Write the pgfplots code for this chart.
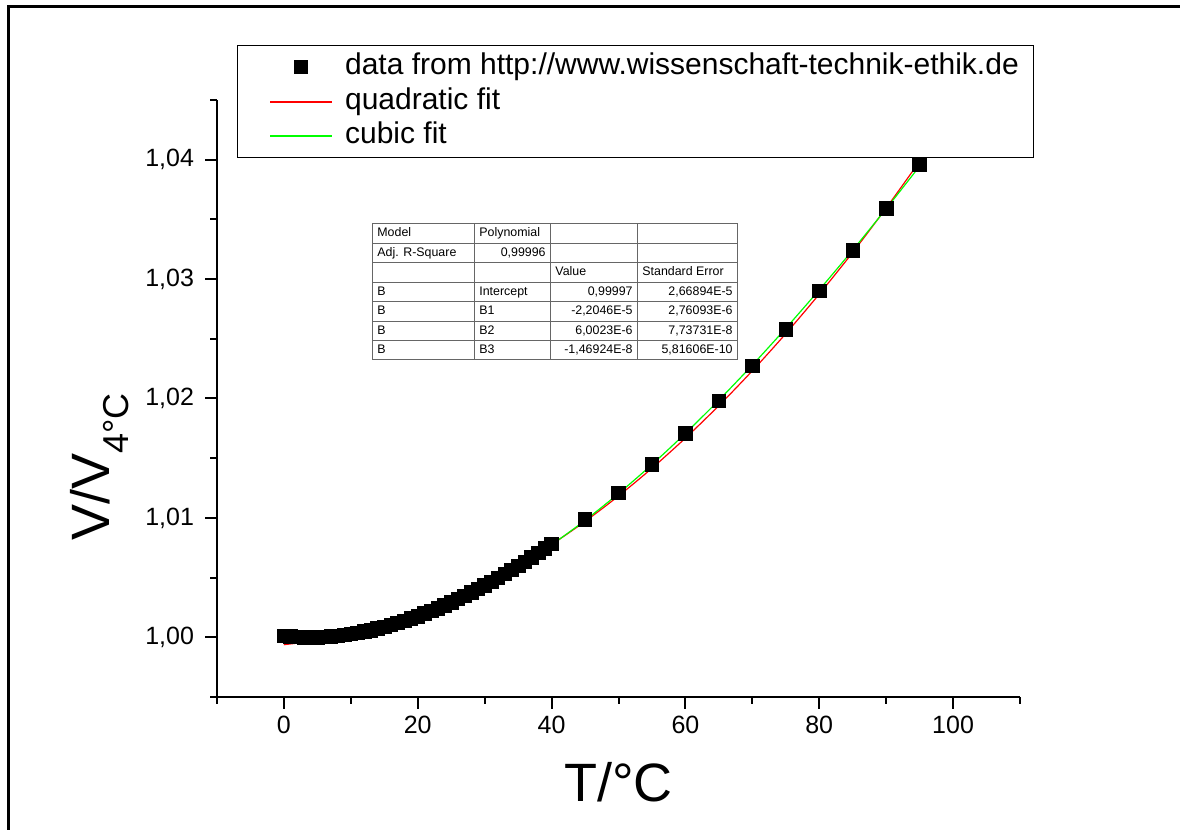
\documentclass[border=0pt]{standalone}
\usepackage{fontspec}
\setmainfont{Liberation Sans}
\usepackage{pgfplots}
\pgfplotsset{compat=1.18}
\definecolor{fitred}{RGB}{255,0,0}
\definecolor{fitgreen}{RGB}{0,255,0}
\pgfplotsset{
  marklegend/.style={legend image code/.code={\path (-8.5pt,0pt) (31pt,0pt); \draw[##1] plot coordinates {(15.5pt,0pt)};}},
  redlegend/.style={legend image code/.code={\path (-8.5pt,0pt); \draw[draw=fitred, line width=1pt] (0pt,0pt) -- (31pt,0pt);}},
  greenlegend/.style={legend image code/.code={\path (-8.5pt,0pt); \draw[draw=fitgreen, line width=1pt] (0pt,0pt) -- (31pt,0pt);}},
}
\pgfplotstableread{
T V
0 1.00013
1 1.00007
2 1.00003
3 1.00001
4 1.00000
5 1.00001
6 1.00003
7 1.00007
8 1.00012
9 1.00019
10 1.00027
11 1.00037
12 1.00048
13 1.00060
14 1.00073
15 1.00087
16 1.00103
17 1.00120
18 1.00138
19 1.00157
20 1.00177
21 1.00198
22 1.00221
23 1.00244
24 1.00268
25 1.00294
26 1.00320
27 1.00347
28 1.00375
29 1.00404
30 1.00434
31 1.00465
32 1.00497
33 1.00530
34 1.00563
35 1.00598
36 1.00633
37 1.00669
38 1.00706
39 1.00743
40 1.00782
45 1.00986
50 1.01208
55 1.01449
60 1.01706
65 1.01981
70 1.02272
75 1.02578
80 1.02900
85 1.03238
90 1.03592
95 1.03960
}\datatable
\pgfplotstableread{
T V
0 0.99938
5 0.999741
10 1.000299
15 1.001053
20 1.002005
25 1.003152
30 1.004495
35 1.006035
40 1.007773
45 1.009706
50 1.011836
55 1.014162
60 1.016685
65 1.019405
70 1.022321
75 1.025433
80 1.028743
85 1.032239
90 1.035951
95 1.039860
}\quadtable
\pgfplotstableread{
T V
0 0.99997
5 1.0000080
10 1.0003351
15 1.0009402
20 1.0018125
25 1.0029407
30 1.0043140
35 1.0059213
40 1.0077515
45 1.0097937
50 1.0120369
55 1.0144700
60 1.0170820
65 1.0198618
70 1.0227986
75 1.0258811
80 1.0290985
85 1.0324300
90 1.0358937
95 1.0394597
}\cubictable
\begin{document}
\begin{tikzpicture}[x=0.5pt,y=0.5pt]
\path[use as bounding box, fill=white] (0,0) rectangle (1180,830);
\draw[line width=1.5pt] (8,-5) -- (8,823) -- (1185,823);
\begin{axis}[
  at={(108.5pt,66.5pt)}, anchor=south west,
  scale only axis, width=401.5pt, height=298.5pt,
  xmin=-10, xmax=110, ymin=0.995, ymax=1.045,
  axis x line*=bottom, axis y line*=left,
  axis line style={-, line width=1pt},
  every tick/.style={black, line width=1pt},
  tick align=outside,
  major tick length=6pt, minor tick length=3.5pt,
  xtick={0,20,40,60,80,100},
  minor xtick={-10,10,30,50,70,90,110},
  ytick={1.00,1.01,1.02,1.03,1.04},
  minor ytick={0.995,1.005,1.015,1.025,1.035,1.045},
  /pgf/number format/assume math mode=true,
  ticklabel style={font=\fontsize{12.5}{15}\selectfont},
  yticklabel style={/pgf/number format/fixed, /pgf/number format/fixed zerofill, /pgf/number format/precision=2, /pgf/number format/use comma, xshift=-2pt},
  xticklabel style={/pgf/number format/fixed, /pgf/number format/precision=0},
  xlabel={T/°C},
  xlabel style={font=\fontsize{27}{32}\selectfont, at={(axis description cs:0.5,-0.1424)}, anchor=center},
  ylabel={V/V\raisebox{-0.35em}{\fontsize{18}{22}\selectfont 4°C}},
  ylabel style={font=\fontsize{27}{32}\selectfont, at={(axis description cs:-0.1457,0.385)}, anchor=center},
  legend style={at={(axis description cs:0.0249,1.092)}, anchor=north west,
    draw=black, line width=0.5pt, fill=white,
    font=\fontsize{15}{18}\selectfont,
    inner xsep=7.5pt, inner ysep=3.5pt,
    nodes={inner sep=0pt, text height=11pt, text depth=3.5pt},
    column sep=6pt, row sep=2.75pt},
  legend cell align=left,
]
\addplot[only marks, mark=square*, mark size=3.4pt, black, marklegend]
  table[x=T, y=V] {\datatable};
\addlegendentry{data from http://www.wissenschaft-technik-ethik.de}
\addplot[color=fitred, line width=0.6pt, smooth, redlegend]
  table[x=T, y=V] {\quadtable};
\addlegendentry{quadratic fit}
\addplot[color=fitgreen, line width=0.6pt, smooth, greenlegend]
  table[x=T, y=V] {\cubictable};
\addlegendentry{cubic fit}
\end{axis}
% parameter table
\begin{scope}[shift={(0,830)}, yscale=-1, font=\fontsize{6.2}{7.5}\selectfont,
  every node/.style={inner sep=0pt, text height=4.6pt, text depth=1.3pt}]
  \fill[white] (372,224) rectangle (737,360);
  \draw[black!60, line width=0.5pt] (372,224) rectangle (737,360);
  \foreach \yy in {243.4,262.9,282.3,301.7,321.1,340.6} {\draw[black!60, line width=0.5pt] (372,\yy) -- (737,\yy);}
  \foreach \xx in {474,550,637} {\draw[black!60, line width=0.5pt] (\xx,224) -- (\xx,360);}
  \node[anchor=west] at (377,233.7) {Model};
  \node[anchor=west] at (479,233.7) {Polynomial};
  \node[anchor=west] at (377,253.1) {Adj. R-Square};
  \node[anchor=east] at (546,253.1) {0,99996};
  \node[anchor=west] at (555,272.6) {Value};
  \node[anchor=west] at (642,272.6) {Standard Error};
  \node[anchor=west] at (377,292.0) {B};
  \node[anchor=west] at (479,292.0) {Intercept};
  \node[anchor=east] at (633,292.0) {0,99997};
  \node[anchor=east] at (733,292.0) {2,66894E-5};
  \node[anchor=west] at (377,311.4) {B};
  \node[anchor=west] at (479,311.4) {B1};
  \node[anchor=east] at (633,311.4) {-2,2046E-5};
  \node[anchor=east] at (733,311.4) {2,76093E-6};
  \node[anchor=west] at (377,330.9) {B};
  \node[anchor=west] at (479,330.9) {B2};
  \node[anchor=east] at (633,330.9) {6,0023E-6};
  \node[anchor=east] at (733,330.9) {7,73731E-8};
  \node[anchor=west] at (377,350.3) {B};
  \node[anchor=west] at (479,350.3) {B3};
  \node[anchor=east] at (633,350.3) {-1,46924E-8};
  \node[anchor=east] at (733,350.3) {5,81606E-10};
\end{scope}
\end{tikzpicture}
\end{document}
